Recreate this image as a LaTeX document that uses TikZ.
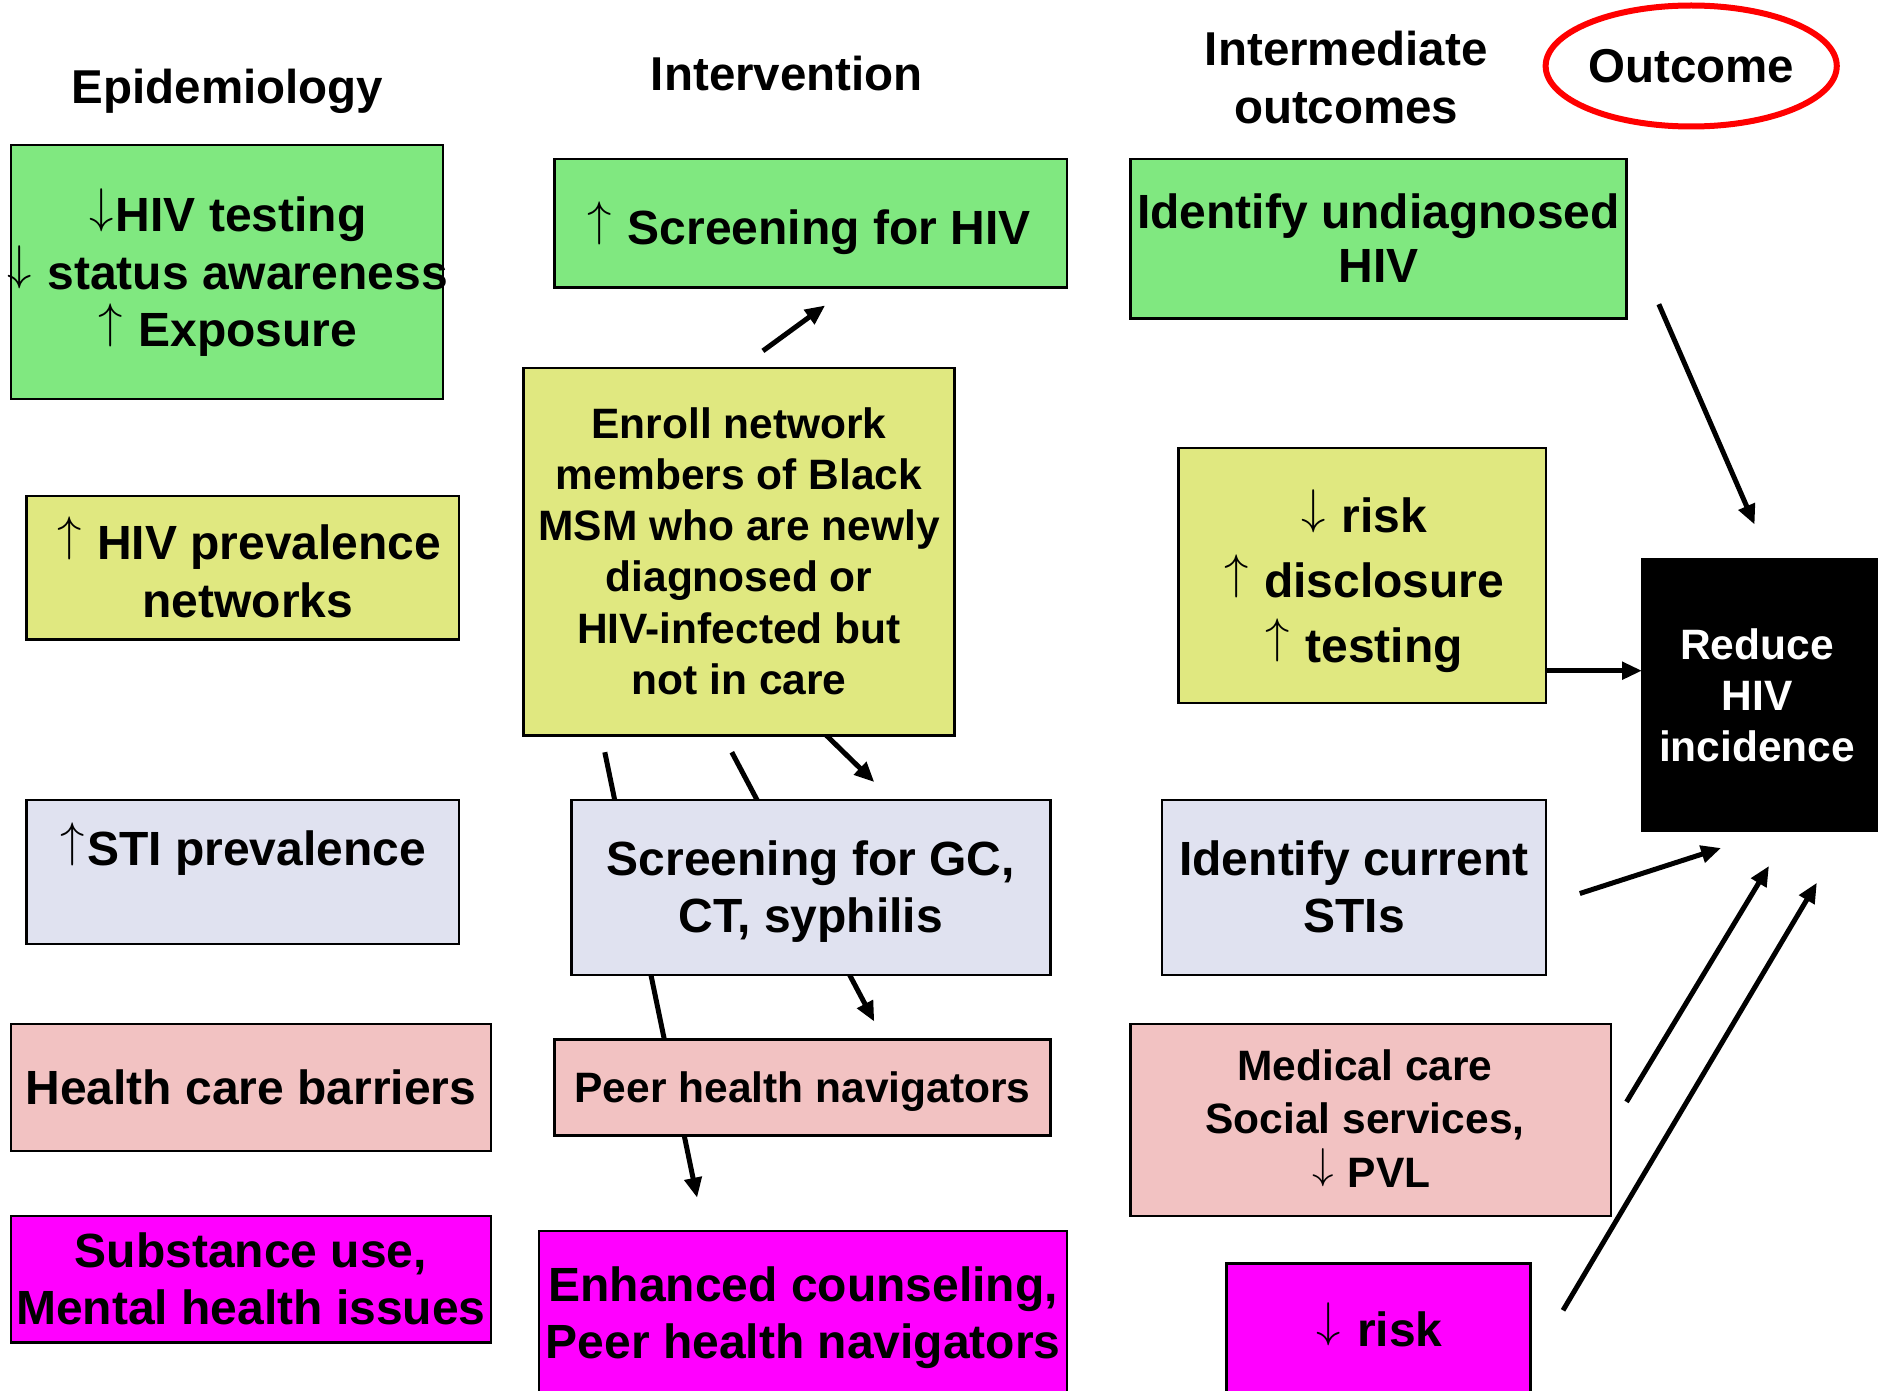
\documentclass[tikz,border=0pt]{standalone}
\usepackage{fontspec}
\setmainfont{Liberation Sans}
\usetikzlibrary{arrows.meta,shapes.geometric}
\newcommand\upar{\kern0.05em\resizebox{!}{0.9em}{\raisebox{\depth}{$\mathsurround=0pt\uparrow$}}\kern0.05em}
\newcommand\dnar{\kern0.05em\resizebox{!}{0.9em}{\raisebox{\depth}{$\mathsurround=0pt\downarrow$}}\kern0.05em}
\newcommand\fstrut{\rule[-0.212em]{0pt}{1.117em}}
\definecolor{cgreen}{RGB}{128,232,128}
\definecolor{cyellow}{RGB}{224,232,128}
\definecolor{clav}{RGB}{224,226,240}
\definecolor{cpink}{RGB}{242,194,194}
\definecolor{cmag}{RGB}{255,0,255}
\tikzset{
  box/.style={draw=black, line width=2.4pt, rectangle, inner sep=0pt, align=center},
  fa/.style={font=\bfseries\fontsize{48}{57.5}\selectfont, align=center, inner sep=0pt},
  fb/.style={font=\bfseries\fontsize{42.5}{51.3}\selectfont, align=center, inner sep=0pt},
  hdr/.style={font=\bfseries\fontsize{47.5}{57.5}\selectfont, align=center, inner sep=0pt},
  arr/.style={line width=5pt, -{Triangle[length=20pt,width=17pt]}},
}
\begin{document}
\begin{tikzpicture}[x=1pt,y=-1pt]
\useasboundingbox (0,0) rectangle (1878,1391);
\fill[white] (0,0) rectangle (1878,1391);

% connector end points
\coordinate (a1) at (762.9,350.9);  \coordinate (a2) at (825.2,305.4);
\coordinate (b1) at (1658.8,304.2); \coordinate (b2) at (1754.6,524.6);
\coordinate (c1) at (1546.2,670.7); \coordinate (c2) at (1642,670.7);
\coordinate (d1) at (1579.8,893.5); \coordinate (d2) at (1721.1,848.0);
\coordinate (e1) at (1626.5,1101.9); \coordinate (e2) at (1769,865.9);
\coordinate (f1) at (1563,1310.3);  \coordinate (f2) at (1816.9,882.7);
\coordinate (g1) at (826.4,735.4);  \coordinate (g2) at (874.3,782.1);
\coordinate (h1) at (604.8,752.2);  \coordinate (h2) at (697.1,1197.7);
\coordinate (i1) at (731.8,752.2);  \coordinate (i2) at (874.3,1021.6);

\draw[arr] (a1) -- (a2);
\draw[arr] (b1) -- (b2);
\draw[arr] (c1) -- (c2);
\draw[arr] (d1) -- (d2);
\draw[arr] (e1) -- (e2);
\draw[arr] (f1) -- (f2);
\draw[arr] (g1) -- (g2);
\draw[arr] (h1) -- (h2);
\draw[arr] (i1) -- (i2);

% headers
\node[hdr] (hepi) at (227.6,87.4) {\fstrut Epidemiology};
\node[hdr] (hint) at (786.9,74.3) {\fstrut Intervention};
\node[hdr] (hmid) at (1346.2,77.9) {\fstrut Intermediate\\outcomes\fstrut};
\node[hdr, draw=red, line width=6pt, ellipse, minimum width=286pt, minimum height=121pt] (hout) at (1691.2,66) {\fstrut Outcome};

% Epidemiology column
\node[box, fill=cgreen, minimum width=432.3pt, minimum height=253.9pt] (epi1) at (226.95,271.85) {};
\node[fa] (epi1t) at (226.5,272.5) {\fstrut\dnar HIV testing\\\dnar{} status awareness\\\upar{} Exposure\fstrut};
\node[box, fill=cyellow, minimum width=432.4pt, minimum height=143.8pt] (epi2) at (242.5,567.7) {};
\node[fa] (epi2t) at (248,572) {\fstrut\upar{} HIV prevalence\\networks\fstrut};
\node[box, fill=clav, minimum width=432.4pt, minimum height=143.7pt] (epi3) at (242.5,871.95) {};
\node[fa] (epi3t) at (242,849) {\fstrut\upar STI prevalence};
\node[box, fa, fill=cpink, minimum width=480.3pt, minimum height=127pt] (epi4) at (250.95,1087.5)
  {\fstrut Health care barriers};
\node[box, fa, fill=cmag, minimum width=480.3pt, minimum height=126.9pt] (epi5) at (250.95,1279.15)
  {\fstrut Substance use,\\Mental health issues\fstrut};

% Intervention column
\node[box, fill=cgreen, minimum width=512.7pt, minimum height=128.1pt] (int1) at (810.85,223.35) {};
\node[fa] (int1t) at (808,228) {\fstrut\upar{} Screening for HIV};
\node[box, fb, fill=cyellow, minimum width=431.2pt, minimum height=367.7pt] (int2) at (739,551.55)
  {\fstrut Enroll network\\members of Black\\MSM who are newly\\diagnosed or\\HIV-infected but\\not in care\fstrut};
\node[box, fa, fill=clav, minimum width=479.1pt, minimum height=174.8pt] (int3) at (810.85,887.5)
  {\fstrut Screening for GC,\\CT, syphilis\fstrut};
\node[box, fb, fill=cpink, minimum width=495.9pt, minimum height=95.8pt] (int4) at (802.45,1087.5)
  {\fstrut Peer health navigators};
\node[box, fa, fill=cmag, minimum width=528.2pt, minimum height=164.8pt] (int5) at (803.1,1313.6)
  {\fstrut Enhanced counseling,\\Peer health navigators\fstrut};

% Intermediate outcomes column
\node[box, font=\bfseries\fontsize{48}{54}\selectfont, fill=cgreen, minimum width=495.9pt, minimum height=159.3pt] (mid1) at (1378.55,238.95)
  {\fstrut Identify undiagnosed\\HIV\fstrut};
\node[box, fill=cyellow, minimum width=367.7pt, minimum height=255.1pt] (mid2) at (1362.35,575.45) {};
\node[fa, font=\bfseries\fontsize{48}{64.7}\selectfont] (mid2t) at (1363,581) {\fstrut\dnar{} risk\\\upar{} disclosure\\\upar{} testing\fstrut};
\node[box, fa, fill=clav, minimum width=384.4pt, minimum height=174.8pt] (mid3) at (1354,887.5)
  {\fstrut Identify current\\STIs\fstrut};
\node[box, fill=cpink, minimum width=480.3pt, minimum height=191.7pt] (mid4) at (1370.75,1119.85) {};
\node[fb, font=\bfseries\fontsize{42.5}{53.3}\selectfont] (mid4t) at (1365,1119) {\fstrut Medical care\\Social services,\\\hspace*{0.25em}\dnar{} PVL\fstrut};
\node[box, fa, fill=cmag, minimum width=304.2pt, minimum height=132.4pt] (mid5) at (1378.5,1329.8)
  {\fstrut\dnar{} risk};

% Outcome
\node[box, fill=black, minimum width=240pt, minimum height=271.9pt] (out1) at (1762,695.25) {};
\node[fb, font=\bfseries\fontsize{42.5}{50.9}\selectfont, text=white] (out1t) at (1757,696) {\fstrut Reduce\\HIV\\incidence\fstrut};
\end{tikzpicture}
\end{document}
